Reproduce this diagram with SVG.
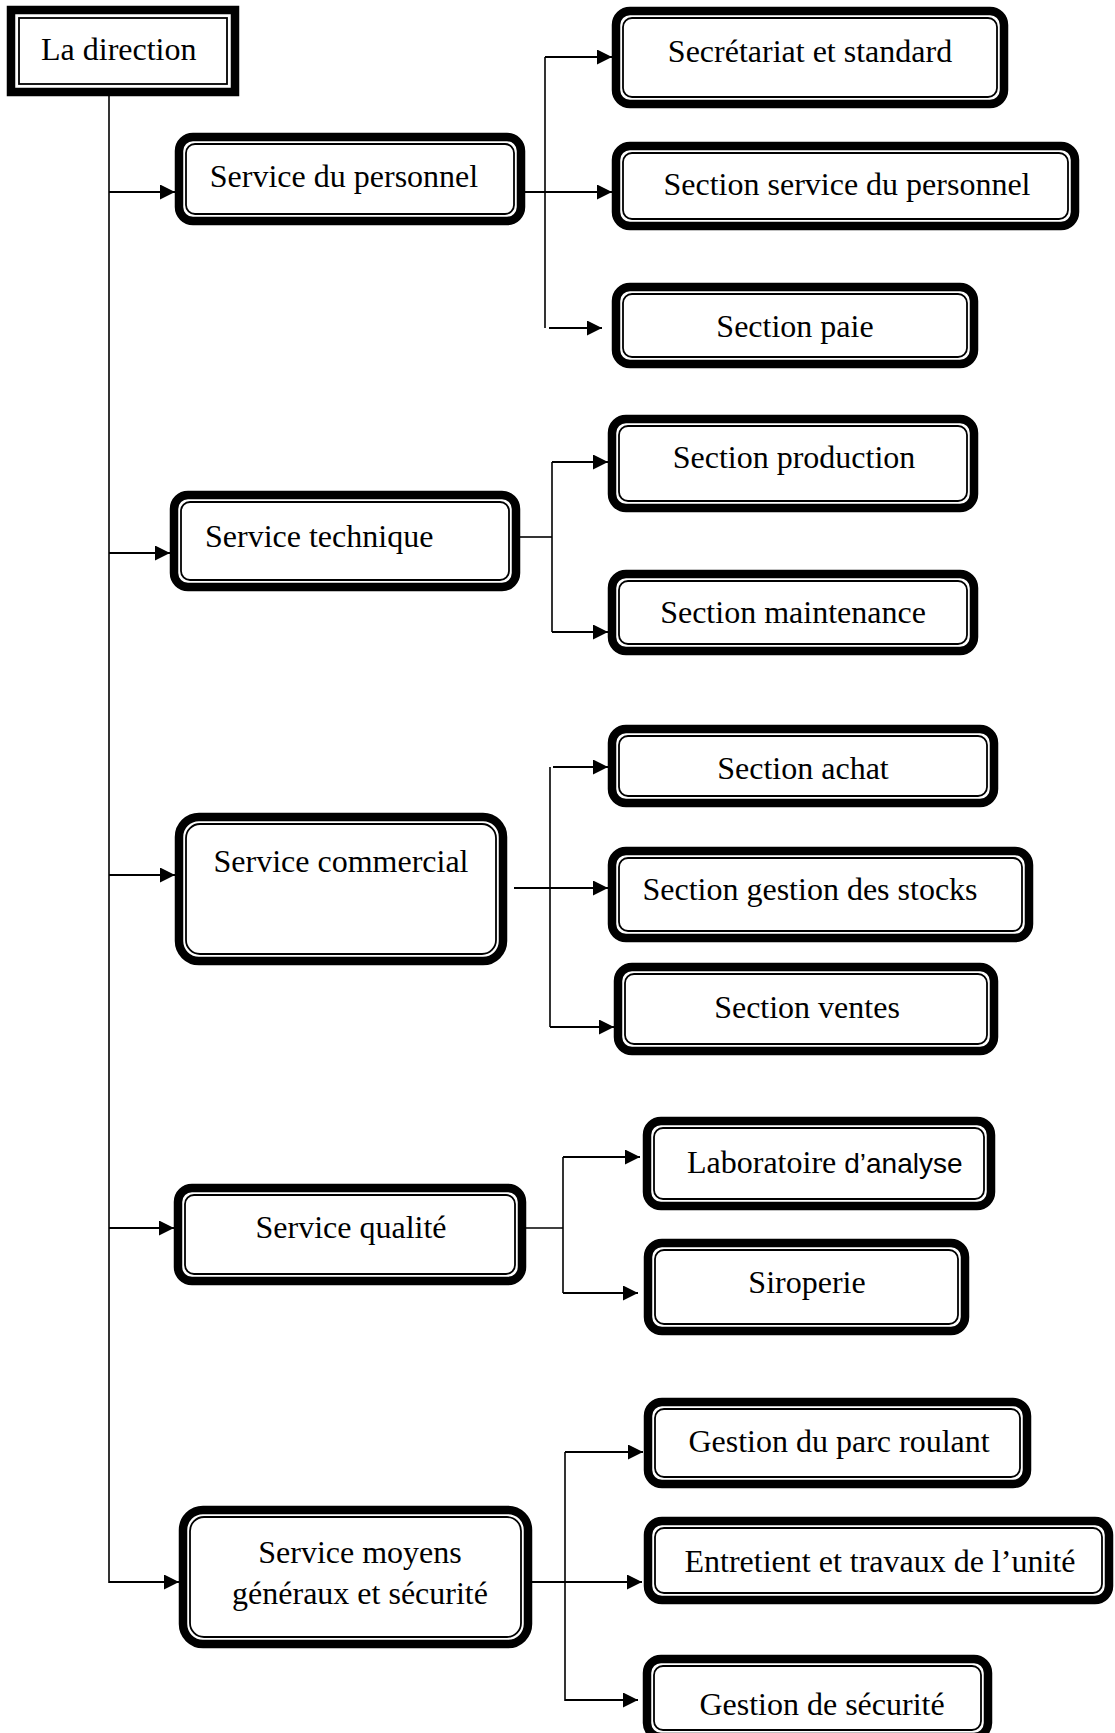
<svg xmlns="http://www.w3.org/2000/svg" width="1115" height="1733" viewBox="0 0 1115 1733">
<style>
.ob{fill:#fff;stroke:#000;stroke-width:8.5}
.ib{fill:none;stroke:#000;stroke-width:1.8}
.t{font-family:"Liberation Serif","Times New Roman",serif;font-size:32px;fill:#000}
.c{text-anchor:middle}
.s{font-family:"Liberation Sans",Arial,sans-serif;font-size:28px}
.ln{fill:none;stroke:#000;stroke-width:1.6}
.ar{fill:none;stroke:#000;stroke-width:2.2;marker-end:url(#ah)}
</style>
<defs>
<marker id="ah" viewBox="0 0 14 14" refX="14" refY="7" markerWidth="15" markerHeight="15" markerUnits="userSpaceOnUse" orient="auto">
<path d="M0,0 L14,7 L0,14 z" fill="#000"/>
</marker>
</defs>
<rect width="1115" height="1733" fill="#fff"/>
<g id="connectors">
<line class="ln" x1="109" y1="96" x2="109" y2="1583"/>
<line class="ar" x1="109" y1="192" x2="175" y2="192"/>
<line class="ar" x1="109" y1="553" x2="170" y2="553"/>
<line class="ar" x1="109" y1="875" x2="175" y2="875"/>
<line class="ar" x1="109" y1="1228" x2="174" y2="1228"/>
<line class="ar" x1="109" y1="1582" x2="179" y2="1582"/>
<line class="ln" x1="545" y1="57" x2="545" y2="328"/>
<line class="ar" x1="545" y1="57" x2="612" y2="57"/>
<line class="ar" x1="525" y1="192" x2="612" y2="192"/>
<line class="ar" x1="549" y1="328" x2="602" y2="328"/>
<line class="ln" x1="520" y1="537" x2="552" y2="537"/>
<line class="ln" x1="552" y1="462" x2="552" y2="632"/>
<line class="ar" x1="552" y1="462" x2="608" y2="462"/>
<line class="ar" x1="552" y1="632" x2="608" y2="632"/>
<line class="ln" x1="550" y1="767" x2="550" y2="1027"/>
<line class="ar" x1="553" y1="767" x2="608" y2="767"/>
<line class="ar" x1="514" y1="888" x2="608" y2="888"/>
<line class="ar" x1="550" y1="1027" x2="614" y2="1027"/>
<line class="ln" x1="526" y1="1228" x2="563" y2="1228"/>
<line class="ln" x1="563" y1="1157" x2="563" y2="1293"/>
<line class="ar" x1="563" y1="1157" x2="640" y2="1157"/>
<line class="ar" x1="563" y1="1293" x2="638" y2="1293"/>
<line class="ln" x1="565" y1="1452" x2="565" y2="1701"/>
<line class="ar" x1="565" y1="1452" x2="643" y2="1452"/>
<line class="ar" x1="532" y1="1582" x2="642" y2="1582"/>
<line class="ar" x1="565" y1="1700" x2="638" y2="1700"/>
</g>
<g id="n-direction">
<rect class="ob" x="11" y="10" width="224" height="82"/>
<rect class="ib" x="19" y="18" width="208" height="66"/>
<text class="t" x="41" y="60">La direction</text>
</g>
<g id="n-personnel">
<rect class="ob" x="179" y="137" width="342" height="84" rx="14"/>
<rect class="ib" x="186" y="144" width="328" height="70" rx="9"/>
<text class="t c" x="344" y="187">Service du personnel</text>
</g>
<g id="n-secretariat">
<rect class="ob" x="616" y="11" width="388" height="93" rx="14"/>
<rect class="ib" x="623" y="18" width="374" height="79" rx="9"/>
<text class="t c" x="810" y="62">Secrétariat et standard</text>
</g>
<g id="n-section-personnel">
<rect class="ob" x="616" y="146" width="459" height="80" rx="14"/>
<rect class="ib" x="623" y="153" width="445" height="66" rx="9"/>
<text class="t c" x="847" y="195">Section service du personnel</text>
</g>
<g id="n-paie">
<rect class="ob" x="616" y="287" width="358" height="77" rx="14"/>
<rect class="ib" x="623" y="294" width="344" height="63" rx="9"/>
<text class="t c" x="795" y="337">Section paie</text>
</g>
<g id="n-technique">
<rect class="ob" x="174" y="495" width="342" height="92" rx="14"/>
<rect class="ib" x="181" y="502" width="328" height="78" rx="9"/>
<text class="t" x="205" y="547">Service technique</text>
</g>
<g id="n-production">
<rect class="ob" x="612" y="419" width="362" height="89" rx="14"/>
<rect class="ib" x="619" y="426" width="348" height="75" rx="9"/>
<text class="t c" x="794" y="468">Section production</text>
</g>
<g id="n-maintenance">
<rect class="ob" x="612" y="574" width="362" height="77" rx="14"/>
<rect class="ib" x="619" y="581" width="348" height="63" rx="9"/>
<text class="t c" x="793" y="623">Section maintenance</text>
</g>
<g id="n-commercial">
<rect class="ob" x="179" y="817" width="324" height="144" rx="20"/>
<rect class="ib" x="186" y="824" width="310" height="130" rx="14"/>
<text class="t c" x="341" y="872">Service commercial</text>
</g>
<g id="n-achat">
<rect class="ob" x="612" y="729" width="382" height="74" rx="14"/>
<rect class="ib" x="619" y="736" width="368" height="60" rx="9"/>
<text class="t c" x="803" y="779">Section achat</text>
</g>
<g id="n-stocks">
<rect class="ob" x="612" y="851" width="417" height="87" rx="14"/>
<rect class="ib" x="619" y="858" width="403" height="73" rx="9"/>
<text class="t c" x="810" y="900">Section gestion des stocks</text>
</g>
<g id="n-ventes">
<rect class="ob" x="618" y="967" width="376" height="84" rx="14"/>
<rect class="ib" x="625" y="974" width="362" height="70" rx="9"/>
<text class="t c" x="807" y="1018">Section ventes</text>
</g>
<g id="n-qualite">
<rect class="ob" x="178" y="1188" width="344" height="93" rx="14"/>
<rect class="ib" x="185" y="1195" width="330" height="79" rx="9"/>
<text class="t c" x="351" y="1238">Service qualité</text>
</g>
<g id="n-laboratoire">
<rect class="ob" x="647" y="1121" width="344" height="85" rx="14"/>
<rect class="ib" x="654" y="1128" width="330" height="71" rx="9"/>
<text class="t" x="687" y="1173">Laboratoire <tspan class="s">d’analyse</tspan></text>
</g>
<g id="n-siroperie">
<rect class="ob" x="648" y="1243" width="317" height="88" rx="14"/>
<rect class="ib" x="655" y="1250" width="303" height="74" rx="9"/>
<text class="t c" x="807" y="1293">Siroperie</text>
</g>
<g id="n-moyens">
<rect class="ob" x="183" y="1510" width="345" height="134" rx="20"/>
<rect class="ib" x="190" y="1517" width="331" height="120" rx="14"/>
<text class="t c" x="360" y="1563">Service moyens</text>
<text class="t c" x="360" y="1604">généraux et sécurité</text>
</g>
<g id="n-parc">
<rect class="ob" x="648" y="1402" width="379" height="82" rx="14"/>
<rect class="ib" x="655" y="1409" width="365" height="68" rx="9"/>
<text class="t c" x="839" y="1452">Gestion du parc roulant</text>
</g>
<g id="n-entretient">
<rect class="ob" x="648" y="1521" width="461" height="79" rx="14"/>
<rect class="ib" x="655" y="1528" width="447" height="65" rx="9"/>
<text class="t c" x="880" y="1572">Entretient et travaux de l’unité</text>
</g>
<g id="n-securite">
<rect class="ob" x="647" y="1659" width="341" height="78" rx="14"/>
<rect class="ib" x="654" y="1666" width="327" height="64" rx="9"/>
<text class="t c" x="822" y="1715">Gestion de sécurité</text>
</g>
</svg>
